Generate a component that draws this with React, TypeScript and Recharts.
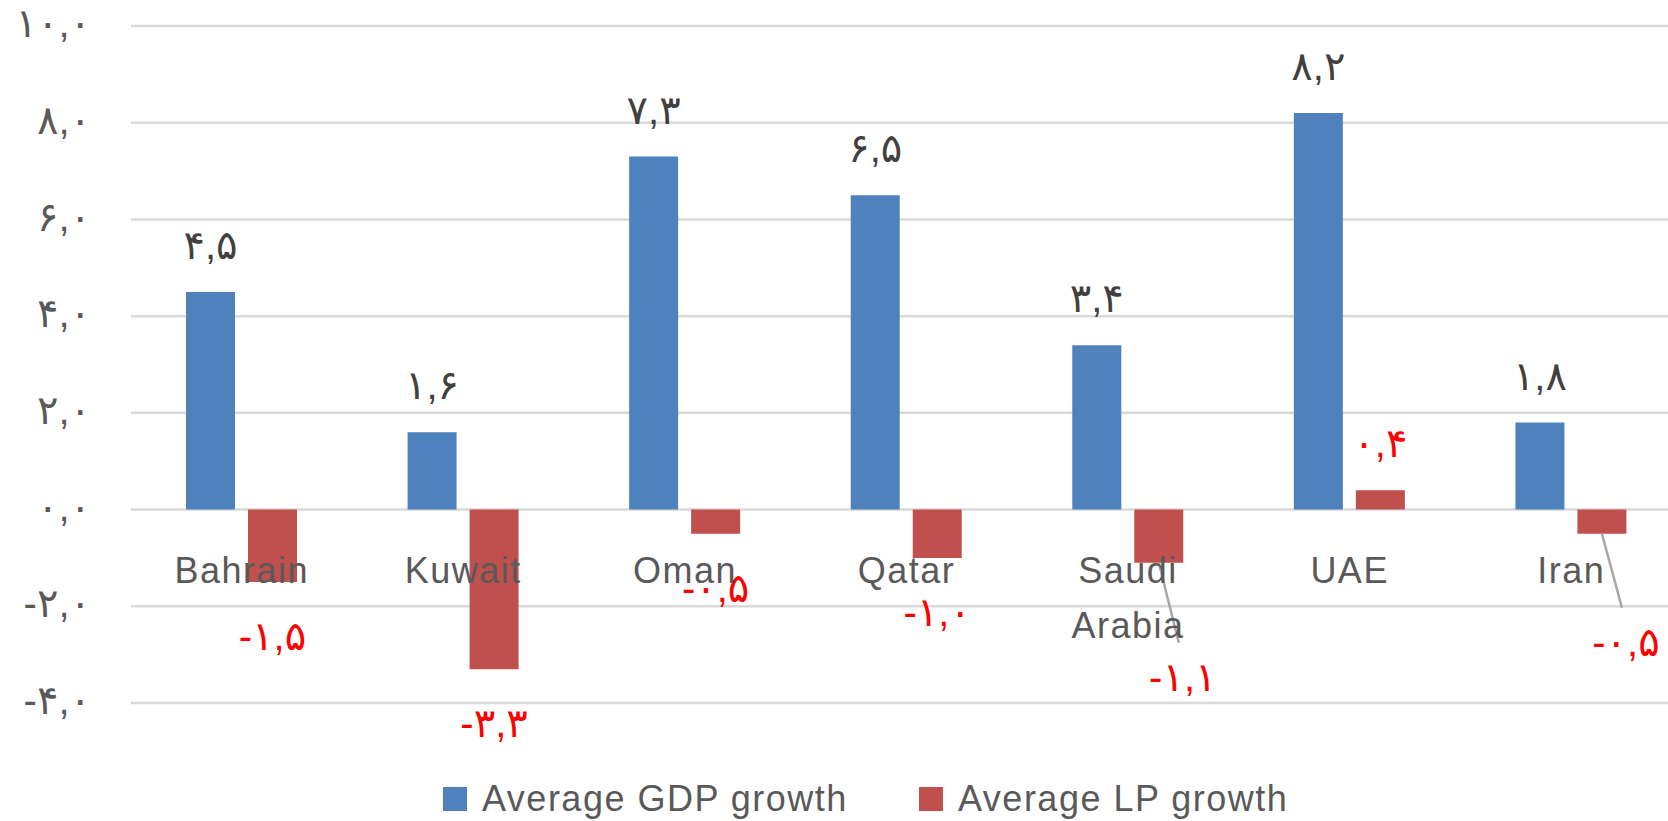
import React from 'react';
import { BarChart, Bar, XAxis, YAxis, CartesianGrid, Legend, LabelList } from 'recharts';

const countries = ['Bahrain', 'Kuwait', 'Oman', 'Qatar', 'Saudi Arabia', 'UAE', 'Iran'];
const gdpGrowth = [4.5, 1.6, 7.3, 6.5, 3.4, 8.2, 1.8];
const lpGrowth = [-1.5, -3.3, -0.5, -1.0, -1.1, 0.4, -0.5];
const yTicks = [-4, -2, 0, 2, 4, 6, 8, 10];
const seriesNames = ['Average GDP growth', 'Average LP growth'];

const chartData = countries.map((country, i) => ({ country, gdp: gdpGrowth[i], lp: lpGrowth[i] }));

// LP labels that were dragged off their bars in the original (drawn with a leader line)
const movedLpLabels: Record<string, { dx: number; dy: number }> = {
  'Saudi Arabia': { dx: 24, dy: 60 },
  Iran: { dx: 24, dy: 54 },
};

const FONT = '"Liberation Sans", "DejaVu Sans", sans-serif';
const GREY = '#595959';
const BLUE = '#4F81BD';
const RED = '#C0504D';
const NUM_SIZE = 40;

const CHART_W = 1682;
const CHART_H = 821;
const PLOT_TOP = 26;
const PLOT_BOTTOM = 703;
const Y_MIN = -4;
const Y_MAX = 10;
const ZERO_Y = PLOT_TOP + ((PLOT_BOTTOM - PLOT_TOP) * Y_MAX) / (Y_MAX - Y_MIN);

const faDigits = '۰۱۲۳۴۵۶۷۸۹';
const toFa = (v: number) =>
  v.toFixed(1).replace('.', ',').replace(/\d/g, (d) => faDigits[Number(d)]);

const makeLabel = (color: string, withLeader: boolean) => (props: any) => {
  const vb = props.viewBox || {};
  const x = Number(props.x ?? vb.x);
  const y = Number(props.y ?? vb.y);
  const w = Number(props.width ?? vb.width);
  const h = Number(props.height ?? vb.height);
  const value = Number(props.value);
  const cx = x + w / 2;
  const top = Math.min(y, y + h);
  const bottom = Math.max(y, y + h);
  const move = withLeader ? movedLpLabels[countries[props.index]] : undefined;
  let tx = cx;
  let ty = value >= 0 ? top - 33 : bottom + 68;
  if (move) {
    tx += move.dx;
    ty += move.dy;
  }
  return (
    <g>
      {move && (
        <line x1={cx} y1={bottom} x2={tx - 4} y2={ty - 48} stroke="#A6A6A6" strokeWidth={2.5} />
      )}
      <text x={tx} y={ty} textAnchor="middle" fill={color} fontSize={NUM_SIZE} fontFamily={FONT}>
        {toFa(value)}
      </text>
    </g>
  );
};

const renderCategoryTick = (props: any) => {
  const { x, payload } = props;
  const words = String(payload.value).split(' ');
  return (
    <text
      x={x}
      y={ZERO_Y + 73}
      textAnchor="middle"
      fill={GREY}
      fontSize={36}
      fontFamily={FONT}
      letterSpacing={1.5}
    >
      {words.map((w, i) => (
        <tspan key={w} x={x} dy={i === 0 ? 0 : 55}>
          {w}
        </tspan>
      ))}
    </text>
  );
};

const renderLegend = (props: any) => {
  const items = props.payload || [];
  return (
    <div style={{ display: 'flex', fontFamily: FONT, fontSize: 36, color: GREY, letterSpacing: 1.5 }}>
      {items.map((item: any, i: number) => (
        <div
          key={item.value}
          style={{ display: 'flex', alignItems: 'center', height: 46, lineHeight: '46px', width: i === 0 ? 476 : 'auto' }}
        >
          <span style={{ width: 24, height: 24, background: item.color, marginRight: 15, display: 'inline-block' }} />
          <span style={{ whiteSpace: 'nowrap' }}>{item.value}</span>
        </div>
      ))}
    </div>
  );
};

export default function App() {
  return (
    <div
      style={{
        position: 'absolute',
        left: 0,
        top: 0,
        width: 1668,
        height: CHART_H,
        overflow: 'hidden',
        background: '#fff',
      }}
    >
      <BarChart
        width={CHART_W}
        height={CHART_H}
        data={chartData}
        margin={{ top: PLOT_TOP, right: 0, bottom: CHART_H - PLOT_BOTTOM - 1, left: 0 }}
        barSize={49}
        barGap={13}
      >
        <CartesianGrid vertical={false} stroke="#D9D9D9" strokeWidth={2.5} />
        <YAxis
          width={131}
          domain={[Y_MIN, Y_MAX]}
          ticks={yTicks}
          axisLine={false}
          tickLine={false}
          tickMargin={34}
          tickFormatter={toFa}
          tick={{ fill: GREY, fontSize: NUM_SIZE, fontFamily: FONT, dy: -3 }}
        />
        <Legend
          layout="horizontal"
          verticalAlign="middle"
          content={renderLegend}
          wrapperStyle={{ top: 776, left: 443, width: 900, height: 46 }}
        />
        <Bar dataKey="gdp" name={seriesNames[0]} fill={BLUE} isAnimationActive={false}>
          <LabelList dataKey="gdp" content={makeLabel('#404040', false)} />
        </Bar>
        <Bar dataKey="lp" name={seriesNames[1]} fill={RED} isAnimationActive={false}>
          <LabelList dataKey="lp" content={makeLabel('#FF0000', true)} />
        </Bar>
        <XAxis
          dataKey="country"
          height={1}
          axisLine={false}
          tickLine={false}
          interval={0}
          tick={renderCategoryTick}
        />
      </BarChart>
    </div>
  );
}
